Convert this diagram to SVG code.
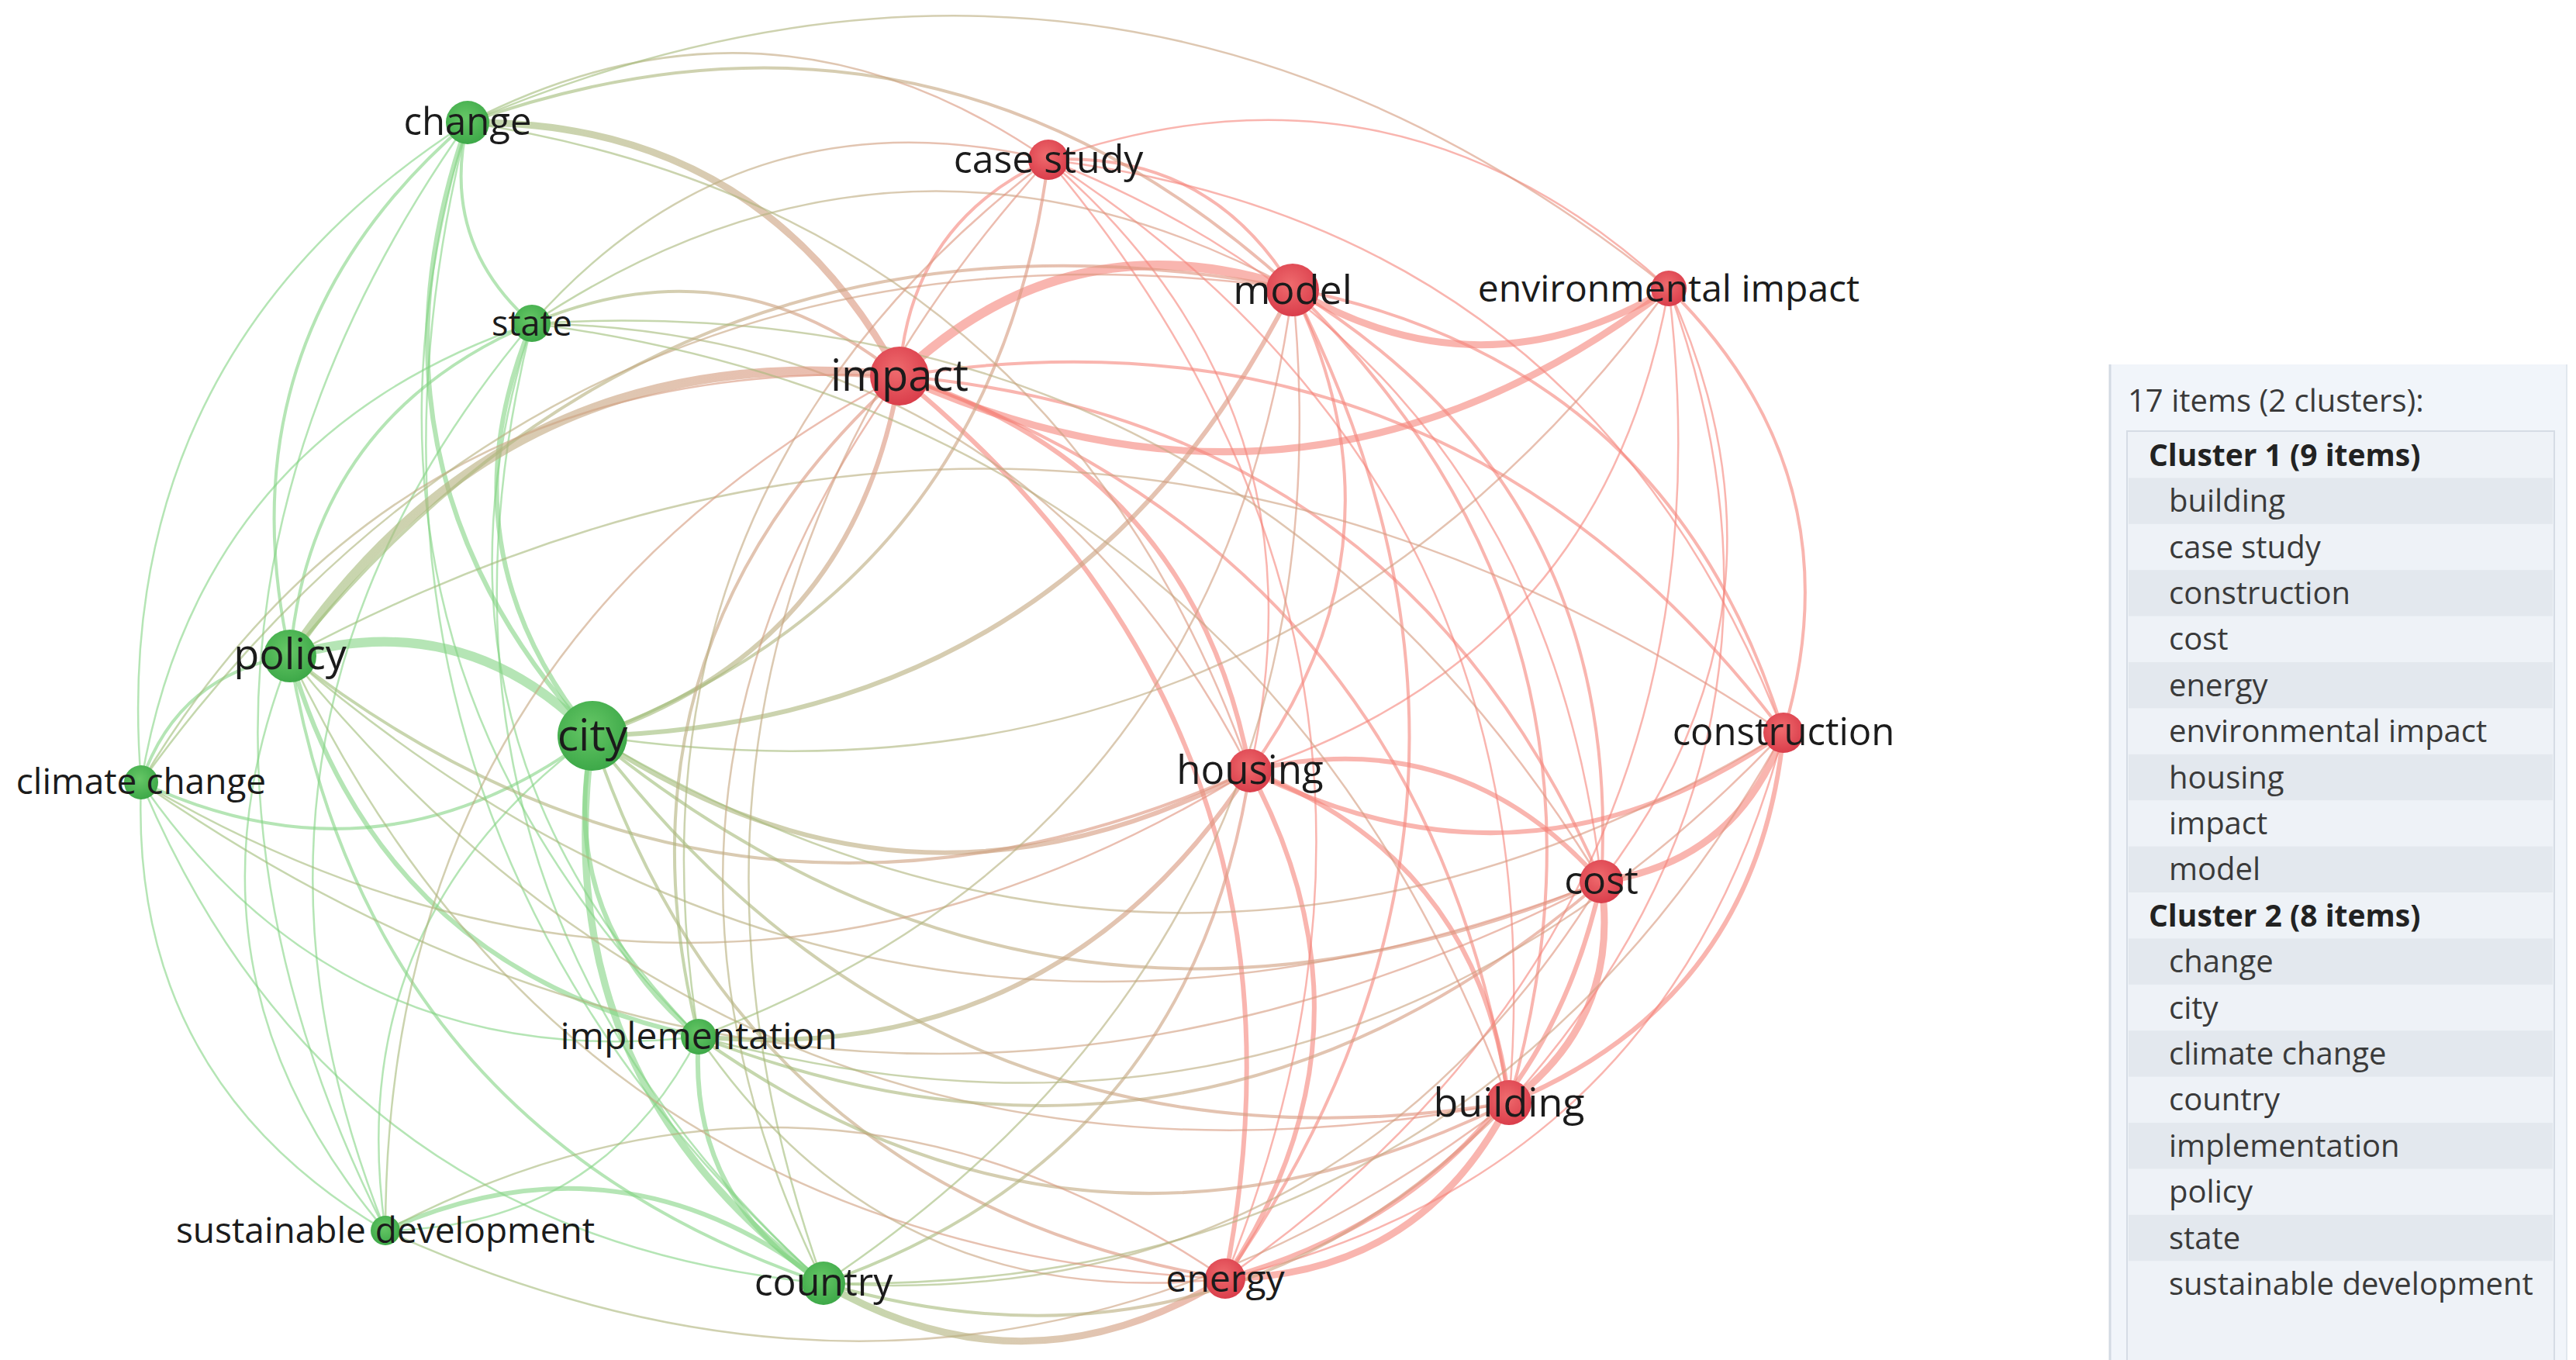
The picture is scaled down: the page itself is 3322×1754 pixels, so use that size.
<svg xmlns="http://www.w3.org/2000/svg" width="3322" height="1754" viewBox="0 0 3322 1754">
<defs>
<style>
.e{fill:none;stroke-linecap:round;vector-effect:non-scaling-stroke}
.g{stroke:#84d484;stroke-opacity:.6}
.r{stroke:#f58379;stroke-opacity:.6}
.gx{stroke:url(#gx);stroke-opacity:.62}
.xg{stroke:url(#xg);stroke-opacity:.62}
.w1{stroke-width:2.5}.w2{stroke-width:4}.w3{stroke-width:6}.w4{stroke-width:9}.w5{stroke-width:12}
.ng{fill:url(#ng)}.nr{fill:url(#nr)}
.lb{font-family:"Open Sans","Noto Sans","DejaVu Sans",sans-serif;fill:#1b1b1b;text-anchor:middle}
.lg{font-family:"Open Sans","Noto Sans","DejaVu Sans",sans-serif;fill:#3a3a3a;font-size:40px}
.lh{font-family:"Open Sans","Noto Sans","DejaVu Sans",sans-serif;fill:#222;font-size:39px;font-weight:bold}
</style>
<linearGradient id="gx" x1="0" y1="0" x2="1" y2="0"><stop offset="0" stop-color="#9cc27a"/><stop offset=".5" stop-color="#c4a982"/><stop offset="1" stop-color="#e5917f"/></linearGradient>
<linearGradient id="xg" x1="0" y1="0" x2="1" y2="0"><stop offset="0" stop-color="#e5917f"/><stop offset=".5" stop-color="#c4a982"/><stop offset="1" stop-color="#9cc27a"/></linearGradient>
<radialGradient id="ng" cx=".45" cy=".4" r=".65"><stop offset="0" stop-color="#66c766"/><stop offset="1" stop-color="#3aa646"/></radialGradient>
<radialGradient id="nr" cx=".45" cy=".4" r=".65"><stop offset="0" stop-color="#ef6b6e"/><stop offset="1" stop-color="#d83a48"/></radialGradient>
</defs>
<rect width="3322" height="1754" fill="#ffffff"/>
<g id="connectors">
<path class="e g w2" d="M0 0Q.5 -.3 1 0" transform="matrix(-83 -259 259 -83 686 417)"/>
<path class="e g w2" d="M0 0Q.5 -.3 1 0" transform="matrix(229 -688 688 229 374 846)"/>
<path class="e g w3" d="M0 0Q.5 -.3 1 0" transform="matrix(-161 -791 791 -161 764 949)"/>
<path class="e g w1" d="M0 0Q.5 -.3 1 0" transform="matrix(421 -851 851 421 182 1009)"/>
<path class="e g w1" d="M0 0Q.5 -.3 1 0" transform="matrix(-298 -1179 1179 -298 901 1337)"/>
<path class="e g w1" d="M0 0Q.5 -.3 1 0" transform="matrix(106 -1429 1429 106 497 1587)"/>
<path class="e g w1" d="M0 0Q.5 -.3 1 0" transform="matrix(-459 -1497 1497 -459 1062 1655)"/>
<path class="e g w2" d="M0 0Q.5 -.3 1 0" transform="matrix(312 -429 429 312 374 846)"/>
<path class="e g w3" d="M0 0Q.5 -.3 1 0" transform="matrix(-78 -532 532 -78 764 949)"/>
<path class="e g w1" d="M0 0Q.5 -.3 1 0" transform="matrix(504 -592 592 504 182 1009)"/>
<path class="e g w1" d="M0 0Q.5 -.3 1 0" transform="matrix(-215 -920 920 -215 901 1337)"/>
<path class="e g w1" d="M0 0Q.5 -.3 1 0" transform="matrix(189 -1170 1170 189 497 1587)"/>
<path class="e g w1" d="M0 0Q.5 -.3 1 0" transform="matrix(-376 -1238 1238 -376 1062 1655)"/>
<path class="e g w5" d="M0 0Q.5 -.3 1 0" transform="matrix(390 103 -103 390 374 846)"/>
<path class="e g w2" d="M0 0Q.5 -.3 1 0" transform="matrix(192 -163 163 192 182 1009)"/>
<path class="e g w3" d="M0 0Q.5 -.3 1 0" transform="matrix(-527 -491 491 -527 901 1337)"/>
<path class="e g w1" d="M0 0Q.5 -.3 1 0" transform="matrix(-123 -741 741 -123 497 1587)"/>
<path class="e g w2" d="M0 0Q.5 -.3 1 0" transform="matrix(-688 -809 809 -688 1062 1655)"/>
<path class="e g w2" d="M0 0Q.5 -.3 1 0" transform="matrix(-582 60 -60 -582 764 949)"/>
<path class="e g w3" d="M0 0Q.5 -.3 1 0" transform="matrix(-137 -388 388 -137 901 1337)"/>
<path class="e g w1" d="M0 0Q.5 -.3 1 0" transform="matrix(267 -638 638 267 497 1587)"/>
<path class="e g w4" d="M0 0Q.5 -.3 1 0" transform="matrix(-298 -706 706 -298 1062 1655)"/>
<path class="e g w1" d="M0 0Q.5 -.3 1 0" transform="matrix(-719 -328 328 -719 901 1337)"/>
<path class="e g w1" d="M0 0Q.5 -.3 1 0" transform="matrix(-315 -578 578 -315 497 1587)"/>
<path class="e g w1" d="M0 0Q.5 -.3 1 0" transform="matrix(-880 -646 646 -880 1062 1655)"/>
<path class="e g w1" d="M0 0Q.5 -.3 1 0" transform="matrix(-404 250 -250 -404 901 1337)"/>
<path class="e g w3" d="M0 0Q.5 -.3 1 0" transform="matrix(-161 -318 318 -161 1062 1655)"/>
<path class="e g w3" d="M0 0Q.5 -.3 1 0" transform="matrix(565 68 -68 565 497 1587)"/>
<path class="e r w2" d="M0 0Q.5 -.3 1 0" transform="matrix(315 166 -166 315 1352 206)"/>
<path class="e r w1" d="M0 0Q.5 -.3 1 0" transform="matrix(800 166 -166 800 1352 206)"/>
<path class="e r w2" d="M0 0Q.5 -.3 1 0" transform="matrix(192 -279 279 192 1160 485)"/>
<path class="e r w1" d="M0 0Q.5 -.3 1 0" transform="matrix(260 788 -788 260 1352 206)"/>
<path class="e r w1" d="M0 0Q.5 -.3 1 0" transform="matrix(948 739 -739 948 1352 206)"/>
<path class="e r w1" d="M0 0Q.5 -.3 1 0" transform="matrix(713 931 -931 713 1352 206)"/>
<path class="e r w1" d="M0 0Q.5 -.3 1 0" transform="matrix(594 1216 -1216 594 1352 206)"/>
<path class="e r w1" d="M0 0Q.5 -.3 1 0" transform="matrix(228 1443 -1443 228 1352 206)"/>
<path class="e r w4" d="M0 0Q.5 -.3 1 0" transform="matrix(-485 0 0 -485 2152 372)"/>
<path class="e r w5" d="M0 0Q.5 -.3 1 0" transform="matrix(507 -113 113 507 1160 485)"/>
<path class="e r w2" d="M0 0Q.5 -.3 1 0" transform="matrix(-55 622 -622 -55 1667 372)"/>
<path class="e r w2" d="M0 0Q.5 -.3 1 0" transform="matrix(633 573 -573 633 1667 372)"/>
<path class="e r w2" d="M0 0Q.5 -.3 1 0" transform="matrix(398 765 -765 398 1667 372)"/>
<path class="e r w2" d="M0 0Q.5 -.3 1 0" transform="matrix(279 1050 -1050 279 1667 372)"/>
<path class="e r w2" d="M0 0Q.5 -.3 1 0" transform="matrix(-87 1277 -1277 -87 1667 372)"/>
<path class="e r w4" d="M0 0Q.5 -.3 1 0" transform="matrix(-992 113 -113 -992 2152 372)"/>
<path class="e r w1" d="M0 0Q.5 -.3 1 0" transform="matrix(-540 622 -622 -540 2152 372)"/>
<path class="e r w2" d="M0 0Q.5 -.3 1 0" transform="matrix(148 573 -573 148 2152 372)"/>
<path class="e r w1" d="M0 0Q.5 -.3 1 0" transform="matrix(-87 765 -765 -87 2152 372)"/>
<path class="e r w1" d="M0 0Q.5 -.3 1 0" transform="matrix(-206 1050 -1050 -206 2152 372)"/>
<path class="e r w1" d="M0 0Q.5 -.3 1 0" transform="matrix(-572 1277 -1277 -572 2152 372)"/>
<path class="e r w3" d="M0 0Q.5 -.3 1 0" transform="matrix(452 509 -509 452 1160 485)"/>
<path class="e r w2" d="M0 0Q.5 -.3 1 0" transform="matrix(1140 460 -460 1140 1160 485)"/>
<path class="e r w2" d="M0 0Q.5 -.3 1 0" transform="matrix(905 652 -652 905 1160 485)"/>
<path class="e r w2" d="M0 0Q.5 -.3 1 0" transform="matrix(786 937 -937 786 1160 485)"/>
<path class="e r w3" d="M0 0Q.5 -.3 1 0" transform="matrix(420 1164 -1164 420 1160 485)"/>
<path class="e r w3" d="M0 0Q.5 -.3 1 0" transform="matrix(-688 49 -49 -688 2300 945)"/>
<path class="e r w3" d="M0 0Q.5 -.3 1 0" transform="matrix(453 143 -143 453 1612 994)"/>
<path class="e r w3" d="M0 0Q.5 -.3 1 0" transform="matrix(334 428 -428 334 1612 994)"/>
<path class="e r w3" d="M0 0Q.5 -.3 1 0" transform="matrix(-32 655 -655 -32 1612 994)"/>
<path class="e r w4" d="M0 0Q.5 -.3 1 0" transform="matrix(-235 192 -192 -235 2300 945)"/>
<path class="e r w3" d="M0 0Q.5 -.3 1 0" transform="matrix(-354 477 -477 -354 2300 945)"/>
<path class="e r w1" d="M0 0Q.5 -.3 1 0" transform="matrix(-720 704 -704 -720 2300 945)"/>
<path class="e r w4" d="M0 0Q.5 -.3 1 0" transform="matrix(-119 285 -285 -119 2065 1137)"/>
<path class="e r w3" d="M0 0Q.5 -.3 1 0" transform="matrix(-485 512 -512 -485 2065 1137)"/>
<path class="e r w4" d="M0 0Q.5 -.3 1 0" transform="matrix(-366 227 -227 -366 1946 1422)"/>
<path class="e gx w4" d="M0 0Q.5 -.3 1 0" transform="matrix(557 327 -327 557 603 158)"/>
<path class="e gx w1" d="M0 0Q.5 -.3 1 0" transform="matrix(749 48 -48 749 603 158)"/>
<path class="e gx w2" d="M0 0Q.5 -.3 1 0" transform="matrix(1064 214 -214 1064 603 158)"/>
<path class="e gx w1" d="M0 0Q.5 -.3 1 0" transform="matrix(1549 214 -214 1549 603 158)"/>
<path class="e gx w2" d="M0 0Q.5 -.3 1 0" transform="matrix(474 68 -68 474 686 417)"/>
<path class="e gx w1" d="M0 0Q.5 -.3 1 0" transform="matrix(666 -211 211 666 686 417)"/>
<path class="e gx w1" d="M0 0Q.5 -.3 1 0" transform="matrix(981 -45 45 981 686 417)"/>
<path class="e gx w1" d="M0 0Q.5 -.3 1 0" transform="matrix(926 577 -577 926 686 417)"/>
<path class="e gx w5" d="M0 0Q.5 -.3 1 0" transform="matrix(786 -361 361 786 374 846)"/>
<path class="e gx w2" d="M0 0Q.5 -.3 1 0" transform="matrix(1293 -474 474 1293 374 846)"/>
<path class="e gx w1" d="M0 0Q.5 -.3 1 0" transform="matrix(1926 99 -99 1926 374 846)"/>
<path class="e xg w1" d="M0 0Q.5 -.3 1 0" transform="matrix(-1691 -291 291 -1691 2065 1137)"/>
<path class="e xg w2" d="M0 0Q.5 -.3 1 0" transform="matrix(-1238 -148 148 -1238 1612 994)"/>
<path class="e xg w1" d="M0 0Q.5 -.3 1 0" transform="matrix(-1572 -576 576 -1572 1946 1422)"/>
<path class="e xg w3" d="M0 0Q.5 -.3 1 0" transform="matrix(-396 464 -464 -396 1160 485)"/>
<path class="e xg w3" d="M0 0Q.5 -.3 1 0" transform="matrix(-903 577 -577 -903 1667 372)"/>
<path class="e xg w2" d="M0 0Q.5 -.3 1 0" transform="matrix(-588 743 -743 -588 1352 206)"/>
<path class="e xg w3" d="M0 0Q.5 -.3 1 0" transform="matrix(-848 -45 45 -848 1612 994)"/>
<path class="e xg w2" d="M0 0Q.5 -.3 1 0" transform="matrix(-1301 -188 188 -1301 2065 1137)"/>
<path class="e xg w2" d="M0 0Q.5 -.3 1 0" transform="matrix(-1182 -473 473 -1182 1946 1422)"/>
<path class="e xg w2" d="M0 0Q.5 -.3 1 0" transform="matrix(-816 -700 700 -816 1580 1649)"/>
<path class="e xg w1" d="M0 0Q.5 -.3 1 0" transform="matrix(-1536 4 -4 -1536 2300 945)"/>
<path class="e xg w1" d="M0 0Q.5 -.3 1 0" transform="matrix(-1388 577 -577 -1388 2152 372)"/>
<path class="e gx w1" d="M0 0Q.5 -.3 1 0" transform="matrix(978 -524 524 978 182 1009)"/>
<path class="e xg w1" d="M0 0Q.5 -.3 1 0" transform="matrix(-1430 15 -15 -1430 1612 994)"/>
<path class="e gx w2" d="M0 0Q.5 -.3 1 0" transform="matrix(259 -852 852 259 901 1337)"/>
<path class="e xg w3" d="M0 0Q.5 -.3 1 0" transform="matrix(-711 343 -343 -711 1612 994)"/>
<path class="e xg w2" d="M0 0Q.5 -.3 1 0" transform="matrix(-1164 200 -200 -1164 2065 1137)"/>
<path class="e xg w2" d="M0 0Q.5 -.3 1 0" transform="matrix(-1045 -85 85 -1045 1946 1422)"/>
<path class="e xg w1" d="M0 0Q.5 -.3 1 0" transform="matrix(-679 -312 312 -679 1580 1649)"/>
<path class="e xg w1" d="M0 0Q.5 -.3 1 0" transform="matrix(-766 965 -965 -766 1667 372)"/>
<path class="e gx w1" d="M0 0Q.5 -.3 1 0" transform="matrix(663 -1102 1102 663 497 1587)"/>
<path class="e gx w1" d="M0 0Q.5 -.3 1 0" transform="matrix(1083 62 -62 1083 497 1587)"/>
<path class="e xg w1" d="M0 0Q.5 -.3 1 0" transform="matrix(-1449 165 -165 -1449 1946 1422)"/>
<path class="e gx w1" d="M0 0Q.5 -.3 1 0" transform="matrix(98 -1170 1170 98 1062 1655)"/>
<path class="e xg w2" d="M0 0Q.5 -.3 1 0" transform="matrix(-550 661 -661 -550 1612 994)"/>
<path class="e xg w4" d="M0 0Q.5 -.3 1 0" transform="matrix(-518 6 -6 -518 1580 1649)"/>
<path class="e xg w2" d="M0 0Q.5 -.3 1 0" transform="matrix(-884 233 -233 -884 1946 1422)"/>
<path class="e xg w1" d="M0 0Q.5 -.3 1 0" transform="matrix(-1003 518 -518 -1003 2065 1137)"/>
<path class="e xg w1" d="M0 0Q.5 -.3 1 0" transform="matrix(-1238 710 -710 -1238 2300 945)"/>
<path class="e xg w1" d="M0 0Q.5 -.3 1 0" transform="matrix(-605 1283 -1283 -605 1667 372)"/>
<path class="e gx w1" d="M0 0Q.5 -.3 1 0" transform="matrix(1379 720 -720 1379 686 417)"/>
<path class="e gx w1" d="M0 0Q.5 -.3 1 0" transform="matrix(1009 836 -836 1009 603 158)"/>
<path class="e gx w1" d="M0 0Q.5 -.3 1 0" transform="matrix(1485 -637 637 1485 182 1009)"/>
<path class="e gx w1" d="M0 0Q.5 -.3 1 0" transform="matrix(451 -1131 1131 451 901 1337)"/>
<path class="e gx w1" d="M0 0Q.5 -.3 1 0" transform="matrix(290 -1449 1449 290 1062 1655)"/>
<path class="e xg w1" d="M0 0Q.5 -.3 1 0" transform="matrix(-1883 -128 128 -1883 2065 1137)"/>
<path class="e xg w1" d="M0 0Q.5 -.3 1 0" transform="matrix(-1206 -803 803 -1206 1580 1649)"/>
<path class="e xg w1" d="M0 0Q.5 -.3 1 0" transform="matrix(-1399 392 -392 -1399 2300 945)"/>
<path class="e gx w1" d="M0 0Q.5 -.3 1 0" transform="matrix(1260 1005 -1005 1260 686 417)"/>
</g>
<g id="node-change"><circle class="ng" cx="603" cy="158" r="28"/><text class="lb" x="603" y="174" font-size="49">change</text></g>
<g id="node-case-study"><circle class="nr" cx="1352" cy="206" r="26"/><text class="lb" x="1352" y="223" font-size="50">case study</text></g>
<g id="node-model"><circle class="nr" cx="1667" cy="374" r="34"/><text class="lb" x="1667" y="392" font-size="52">model</text></g>
<g id="node-environmental-impact"><circle class="nr" cx="2152" cy="372" r="23"/><text class="lb" x="2152" y="389" font-size="48">environmental impact</text></g>
<g id="node-state"><circle class="ng" cx="686" cy="417" r="24"/><text class="lb" x="686" y="433" font-size="45">state</text></g>
<g id="node-impact"><circle class="nr" cx="1160" cy="485" r="38"/><text class="lb" x="1160" y="504" font-size="56">impact</text></g>
<g id="node-policy"><circle class="ng" cx="374" cy="846" r="34"/><text class="lb" x="374" y="863" font-size="54">policy</text></g>
<g id="node-city"><circle class="ng" cx="764" cy="949" r="45"/><text class="lb" x="764" y="968" font-size="57">city</text></g>
<g id="node-climate-change"><circle class="ng" cx="182" cy="1009" r="22"/><text class="lb" x="182" y="1024" font-size="46">climate change</text></g>
<g id="node-housing"><circle class="nr" cx="1612" cy="994" r="28"/><text class="lb" x="1612" y="1011" font-size="51">housing</text></g>
<g id="node-construction"><circle class="nr" cx="2300" cy="945" r="26"/><text class="lb" x="2300" y="961" font-size="49">construction</text></g>
<g id="node-cost"><circle class="nr" cx="2065" cy="1137" r="28"/><text class="lb" x="2065" y="1153" font-size="50">cost</text></g>
<g id="node-implementation"><circle class="ng" cx="901" cy="1337" r="23"/><text class="lb" x="901" y="1353" font-size="48">implementation</text></g>
<g id="node-building"><circle class="nr" cx="1946" cy="1422" r="29"/><text class="lb" x="1946" y="1440" font-size="52">building</text></g>
<g id="node-sustainable-development"><circle class="ng" cx="497" cy="1587" r="19"/><text class="lb" x="497" y="1603" font-size="46">sustainable development</text></g>
<g id="node-country"><circle class="ng" cx="1062" cy="1655" r="28"/><text class="lb" x="1062" y="1671" font-size="50">country</text></g>
<g id="node-energy"><circle class="nr" cx="1580" cy="1649" r="26"/><text class="lb" x="1580" y="1666" font-size="48">energy</text></g>
<g id="legend">
<rect x="2720" y="470" width="591" height="1290" fill="#f1f5fa"/>
<line x1="2721" y1="470" x2="2721" y2="1754" stroke="#d3dae3" stroke-width="3"/>
<line x1="3310" y1="470" x2="3310" y2="1754" stroke="#e1e7ee" stroke-width="2"/>
<text class="lg" x="2744" y="531" font-size="39">17 items (2 clusters):</text>
<rect x="2743" y="556" width="551" height="1210" fill="#eef2f7" stroke="#d5dce5" stroke-width="2"/>
<rect x="2745" y="616.4" width="547" height="59.4" fill="#e3e8ee"/>
<rect x="2745" y="735.2" width="547" height="59.4" fill="#e3e8ee"/>
<rect x="2745" y="854" width="547" height="59.4" fill="#e3e8ee"/>
<rect x="2745" y="972.8" width="547" height="59.4" fill="#e3e8ee"/>
<rect x="2745" y="1091.6" width="547" height="59.4" fill="#e3e8ee"/>
<rect x="2745" y="1210.4" width="547" height="59.4" fill="#e3e8ee"/>
<rect x="2745" y="1329.2" width="547" height="59.4" fill="#e3e8ee"/>
<rect x="2745" y="1448" width="547" height="59.4" fill="#e3e8ee"/>
<rect x="2745" y="1566.8" width="547" height="59.4" fill="#e3e8ee"/>
<text class="lh" x="2771" y="601">Cluster 1 (9 items)</text>
<text class="lg" x="2797" y="660">building</text>
<text class="lg" x="2797" y="720">case study</text>
<text class="lg" x="2797" y="779">construction</text>
<text class="lg" x="2797" y="838">cost</text>
<text class="lg" x="2797" y="898">energy</text>
<text class="lg" x="2797" y="957">environmental impact</text>
<text class="lg" x="2797" y="1017">housing</text>
<text class="lg" x="2797" y="1076">impact</text>
<text class="lg" x="2797" y="1135">model</text>
<text class="lh" x="2771" y="1195">Cluster 2 (8 items)</text>
<text class="lg" x="2797" y="1254">change</text>
<text class="lg" x="2797" y="1314">city</text>
<text class="lg" x="2797" y="1373">climate change</text>
<text class="lg" x="2797" y="1432">country</text>
<text class="lg" x="2797" y="1492">implementation</text>
<text class="lg" x="2797" y="1551">policy</text>
<text class="lg" x="2797" y="1611">state</text>
<text class="lg" x="2797" y="1670">sustainable development</text>
</g>
</svg>
